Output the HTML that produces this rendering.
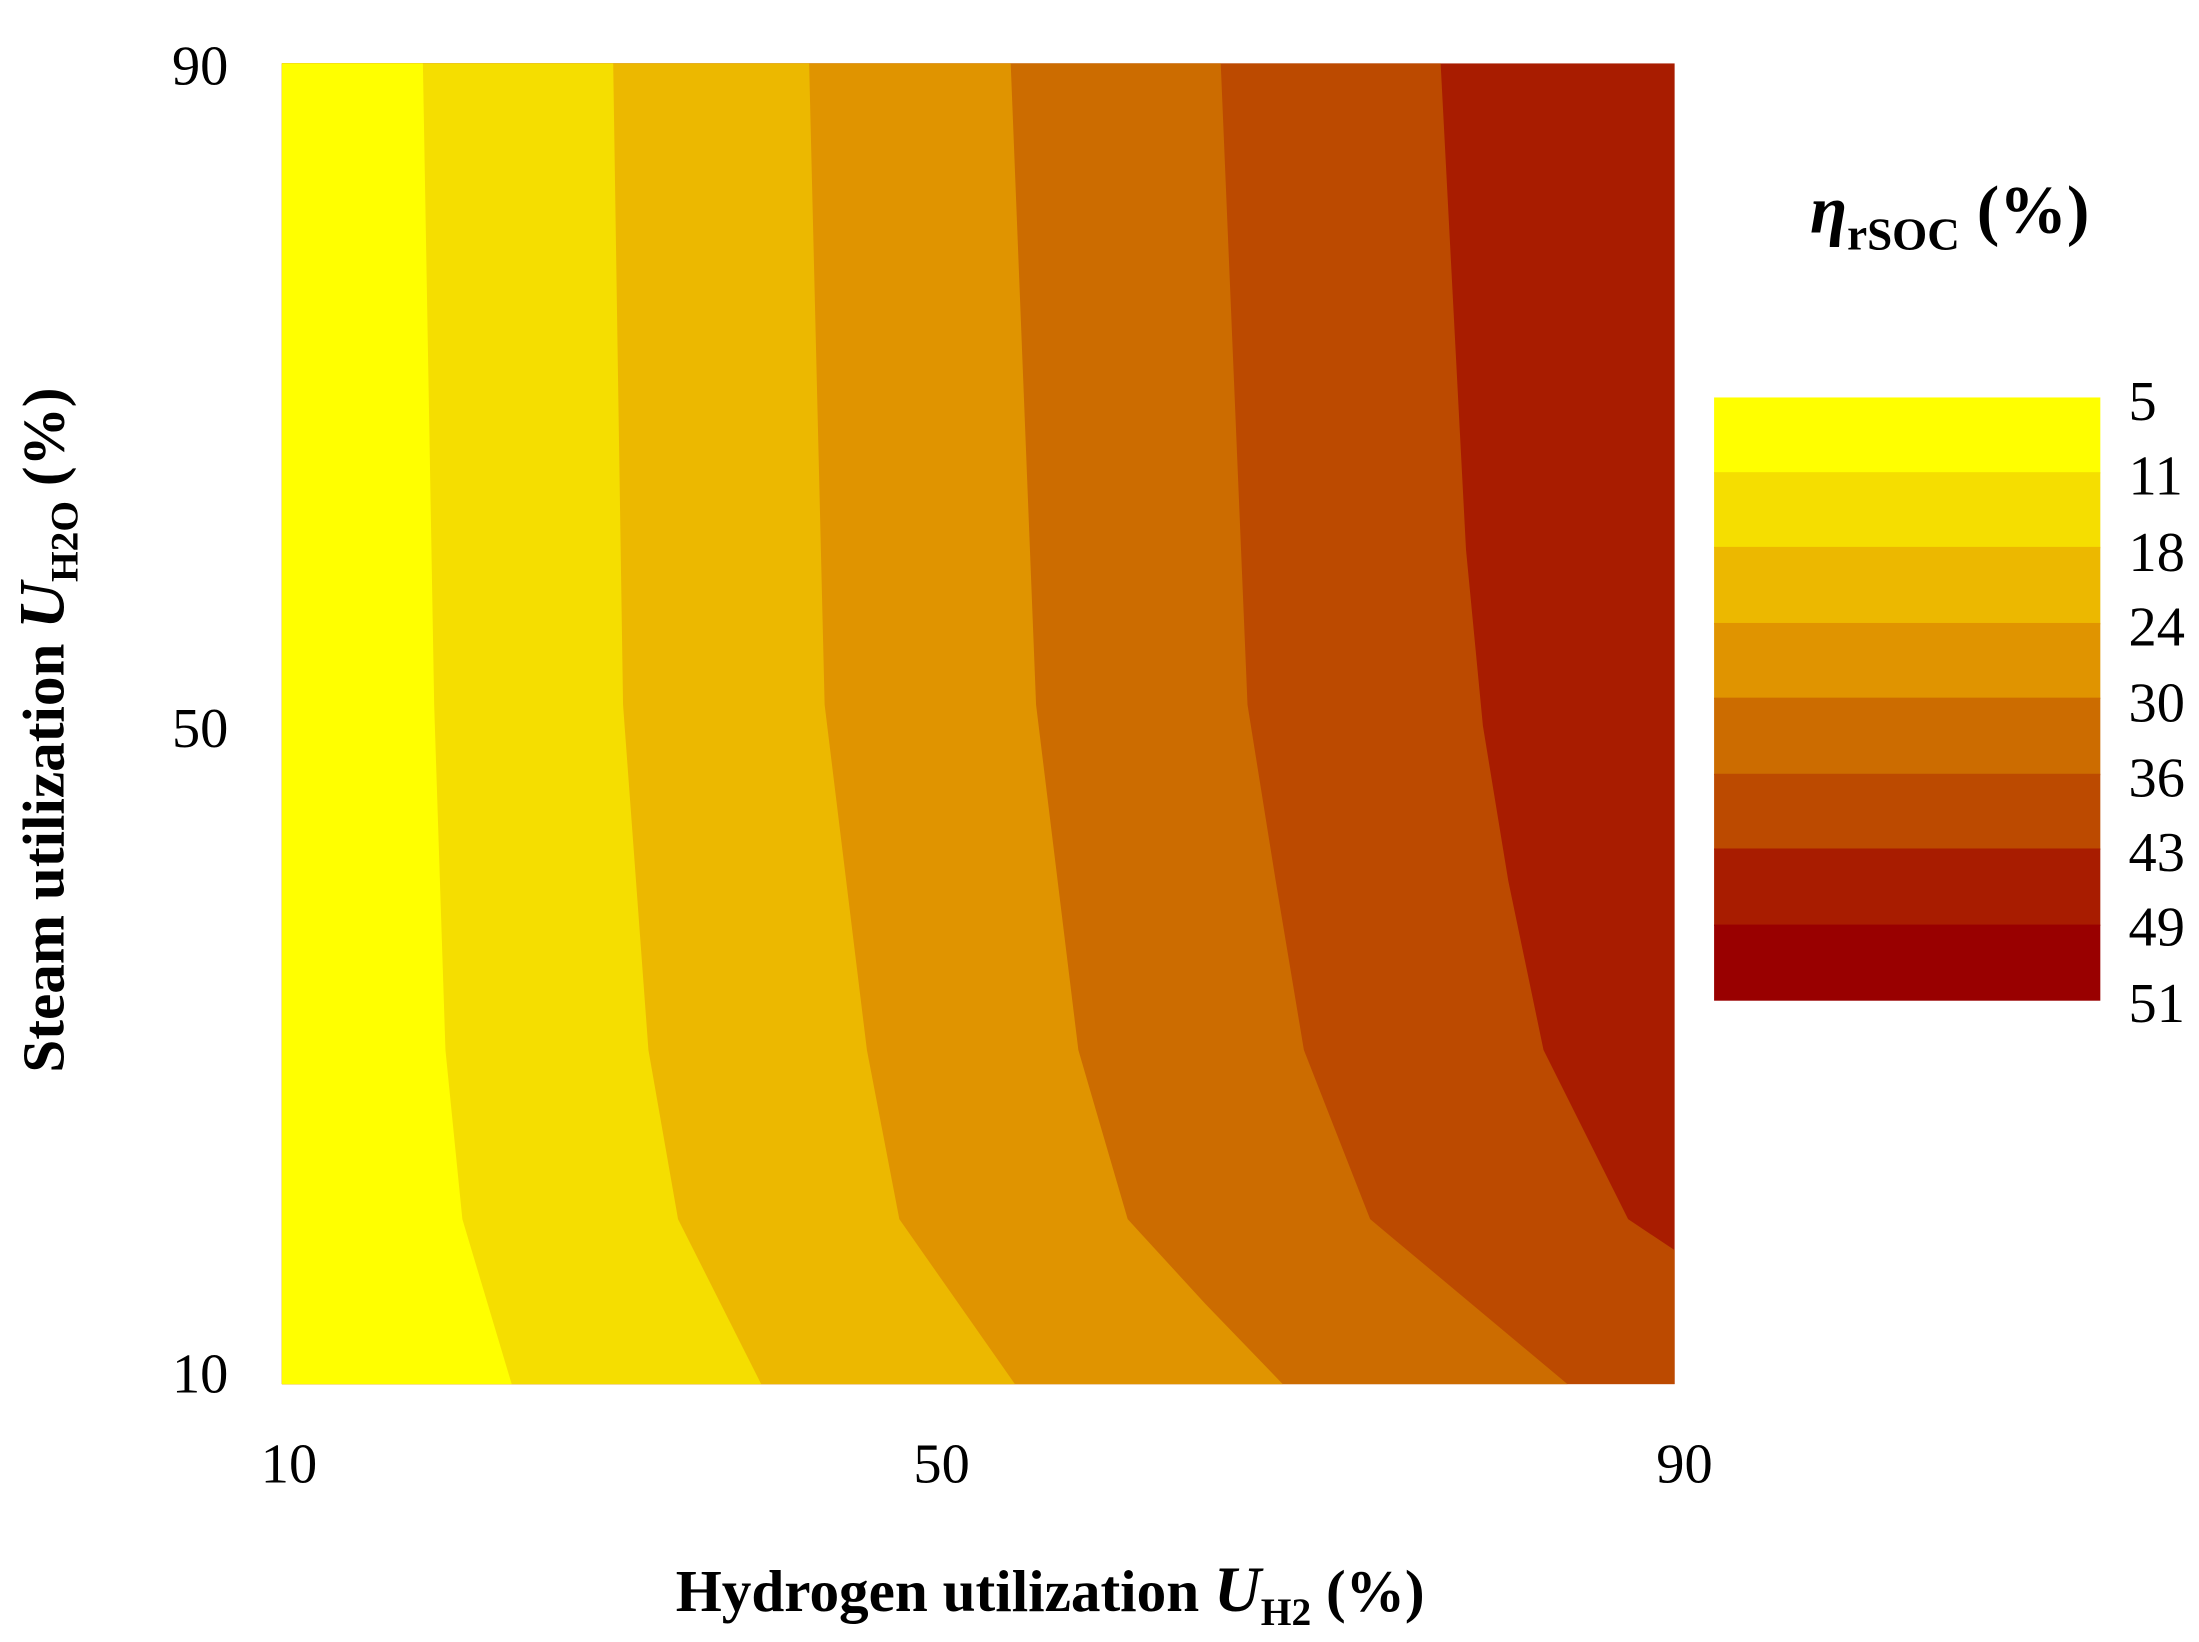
<!DOCTYPE html>
<html><head><style>html,body{margin:0;padding:0;background:#fff}svg{display:block}</style></head>
<body>
<svg width="2199" height="1642" viewBox="0 0 1560 1165" preserveAspectRatio="none" xmlns="http://www.w3.org/2000/svg" font-family="Liberation Serif, serif">
<rect x="200" y="45" width="988" height="937" fill="#a81c00"/>
<polygon points="200,45 1022,45 1040,390 1052,515 1070,625 1095,745 1155,865 1188,887 1188,982 200,982" fill="#bc4a00"/>
<polygon points="200,45 866,45 885,500 905,625 925,745 972,865 1112,982 200,982" fill="#cc6c00"/>
<polygon points="200,45 717,45 735,500 765,745 800,865 855,925 910,982 200,982" fill="#e09400"/>
<polygon points="200,45 574,45 585,500 615,745 638,865 720,982 200,982" fill="#ecb800"/>
<polygon points="200,45 435,45 442,500 460,745 481,865 540,982 200,982" fill="#f5de00"/>
<polygon points="200,45 300,45 308,500 316,745 328,865 363,982 200,982" fill="#ffff00"/>
<g font-size="40" fill="#000">
<text x="162" y="60" text-anchor="end">90</text>
<text x="162" y="530" text-anchor="end">50</text>
<text x="162" y="988" text-anchor="end">10</text>
<text x="205" y="1052" text-anchor="middle">10</text>
<text x="668" y="1052" text-anchor="middle">50</text>
<text x="1195" y="1052" text-anchor="middle">90</text>
</g>
<text x="745" y="1143" text-anchor="middle" font-size="42" font-weight="bold">Hydrogen utilization <tspan font-style="italic" font-size="46">U</tspan><tspan font-size="28" dy="10">H2</tspan><tspan dy="-10"> (%)</tspan></text>
<text transform="translate(45,518) rotate(-90)" text-anchor="middle" font-size="42" font-weight="bold">Steam utilization <tspan font-style="italic" font-size="46">U</tspan><tspan font-size="28" dy="10">H2O</tspan><tspan dy="-10"> (%)</tspan></text>
<text x="1284" y="165" font-size="48" font-weight="bold"><tspan font-style="italic">η</tspan><tspan font-size="32" dy="12">rSOC</tspan><tspan dy="-12"> (%)</tspan></text>
<rect x="1216" y="282" width="274" height="54" fill="#ffff00"/>
<rect x="1216" y="335" width="274" height="54" fill="#f5de00"/>
<rect x="1216" y="388" width="274" height="55" fill="#ecb800"/>
<rect x="1216" y="442" width="274" height="54" fill="#e09400"/>
<rect x="1216" y="495" width="274" height="55" fill="#cc6c00"/>
<rect x="1216" y="549" width="274" height="54" fill="#bc4a00"/>
<rect x="1216" y="602" width="274" height="55" fill="#a81c00"/>
<rect x="1216" y="656" width="274" height="54" fill="#990000"/>
<g font-size="40" fill="#000">
<text x="1510" y="298">5</text>
<text x="1510" y="351">11</text>
<text x="1510" y="405">18</text>
<text x="1510" y="458">24</text>
<text x="1510" y="512">30</text>
<text x="1510" y="565">36</text>
<text x="1510" y="618">43</text>
<text x="1510" y="671">49</text>
<text x="1510" y="725">51</text>
</g>
</svg>
</body></html>
